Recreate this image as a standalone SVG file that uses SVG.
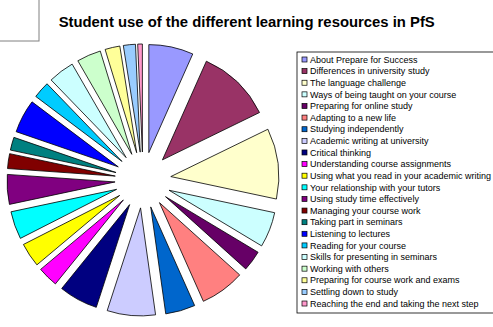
<svg xmlns="http://www.w3.org/2000/svg" width="493" height="327" viewBox="0 0 493 327">
<style>
.s{stroke:#000;stroke-width:0.8;stroke-linejoin:round}
.m{stroke:#000;stroke-width:0.7}
.t{font-family:"Liberation Sans",Arial,sans-serif;font-size:9px;fill:#000}
.title{font-family:"Liberation Sans",Arial,sans-serif;font-size:14.85px;font-weight:bold;fill:#000}
</style>
<rect x="0" y="0" width="493" height="327" fill="#fff"/>
<rect x="-2" y="-2" width="41" height="43" fill="#fff" stroke="#808080" stroke-width="1"/>
<text class="title" x="246.7" y="27.3" text-anchor="middle">Student use of the different learning resources in PfS</text>
<g id="pie">
<path id="slice1" class="s" fill="#9999FF" d="M148.82,152.61 L148.82,44.61 A108,108 0 0 1 192.75,53.95 Z"/>
<path id="slice2" class="s" fill="#993366" d="M162.45,159.86 L206.38,61.20 A108,108 0 0 1 259.52,112.51 Z"/>
<path id="slice3" class="s" fill="#FFFFCC" d="M170.79,176.59 L267.86,129.24 A108,108 0 0 1 276.42,199.04 Z"/>
<path id="slice4" class="s" fill="#CCFFFF" d="M169.05,190.26 L274.68,212.71 A108,108 0 0 1 261.63,245.88 Z"/>
<path id="slice5" class="s" fill="#660066" d="M165.51,196.65 L258.09,252.27 A108,108 0 0 1 245.76,268.91 Z"/>
<path id="slice6" class="s" fill="#FF8080" d="M159.46,202.65 L239.71,274.91 A108,108 0 0 1 203.39,301.31 Z"/>
<path id="slice7" class="s" fill="#0066CC" d="M150.72,206.92 L194.65,305.58 A108,108 0 0 1 165.75,313.87 Z"/>
<path id="slice8" class="s" fill="#CCCCFF" d="M140.56,207.89 L155.59,314.84 A108,108 0 0 1 107.19,310.61 Z"/>
<path id="slice9" class="s" fill="#000080" d="M129.64,204.61 L96.27,307.33 A108,108 0 0 1 61.68,288.54 Z"/>
<path id="slice10" class="s" fill="#FF00FF" d="M123.37,199.97 L55.41,283.90 A108,108 0 0 1 40.64,269.39 Z"/>
<path id="slice11" class="s" fill="#FFFF00" d="M119.65,195.45 L36.92,264.87 A108,108 0 0 1 23.42,244.48 Z"/>
<path id="slice12" class="s" fill="#00FFFF" d="M116.61,189.35 L20.38,238.38 A108,108 0 0 1 10.98,211.80 Z"/>
<path id="slice13" class="s" fill="#800080" d="M115.07,181.95 L9.44,204.40 A108,108 0 0 1 7.33,174.41 Z"/>
<path id="slice14" class="s" fill="#800000" d="M115.27,176.10 L7.53,168.56 A108,108 0 0 1 9.64,153.65 Z"/>
<path id="slice15" class="s" fill="#008080" d="M116.02,172.52 L10.39,150.07 A108,108 0 0 1 13.91,137.36 Z"/>
<path id="slice16" class="s" fill="#0000FF" d="M118.28,166.85 L16.17,131.69 A108,108 0 0 1 32.03,101.85 Z"/>
<path id="slice17" class="s" fill="#00CCFF" d="M122.03,161.45 L35.78,96.45 A108,108 0 0 1 47.00,83.77 Z"/>
<path id="slice18" class="s" fill="#CCFFFF" d="M126.15,157.64 L51.12,79.96 A108,108 0 0 1 72.15,64.11 Z"/>
<path id="slice19" class="s" fill="#CCFFCC" d="M131.84,154.32 L77.84,60.79 A108,108 0 0 1 100.26,51.04 Z"/>
<path id="slice20" class="s" fill="#FFFF99" d="M136.70,152.72 L105.12,49.44 A108,108 0 0 1 119.81,46.05 Z"/>
<path id="slice21" class="s" fill="#99CCFF" d="M140.19,152.14 L123.30,45.47 A108,108 0 0 1 135.48,44.25 Z"/>
<path id="slice22" class="s" fill="#FF99CC" d="M142.39,152.01 L137.68,44.12 A108,108 0 0 1 142.39,44.01 Z"/>
</g>
<g id="legend">
<rect x="297" y="52" width="200" height="261" fill="#fff" stroke="#000" stroke-width="0.8"/>
<g id="leg1"><rect class="m" x="302" y="57" width="5" height="5" fill="#9999FF"/><text class="t" x="310" y="62.7">About Prepare for Success</text></g>
<g id="leg2"><rect class="m" x="302" y="68.62" width="5" height="5" fill="#993366"/><text class="t" x="310" y="74.32">Differences in university study</text></g>
<g id="leg3"><rect class="m" x="302" y="80.24" width="5" height="5" fill="#FFFFCC"/><text class="t" x="310" y="85.94">The language challenge</text></g>
<g id="leg4"><rect class="m" x="302" y="91.86" width="5" height="5" fill="#CCFFFF"/><text class="t" x="310" y="97.56">Ways of being taught on your course</text></g>
<g id="leg5"><rect class="m" x="302" y="103.48" width="5" height="5" fill="#660066"/><text class="t" x="310" y="109.18">Preparing for online study</text></g>
<g id="leg6"><rect class="m" x="302" y="115.1" width="5" height="5" fill="#FF8080"/><text class="t" x="310" y="120.8">Adapting to a new life</text></g>
<g id="leg7"><rect class="m" x="302" y="126.72" width="5" height="5" fill="#0066CC"/><text class="t" x="310" y="132.42">Studying independently</text></g>
<g id="leg8"><rect class="m" x="302" y="138.34" width="5" height="5" fill="#CCCCFF"/><text class="t" x="310" y="144.04">Academic writing at university</text></g>
<g id="leg9"><rect class="m" x="302" y="149.96" width="5" height="5" fill="#000080"/><text class="t" x="310" y="155.66">Critical thinking</text></g>
<g id="leg10"><rect class="m" x="302" y="161.58" width="5" height="5" fill="#FF00FF"/><text class="t" x="310" y="167.28">Understanding course assignments</text></g>
<g id="leg11"><rect class="m" x="302" y="173.2" width="5" height="5" fill="#FFFF00"/><text class="t" x="310" y="178.9">Using what you read in your academic writing</text></g>
<g id="leg12"><rect class="m" x="302" y="184.82" width="5" height="5" fill="#00FFFF"/><text class="t" x="310" y="190.52">Your relationship with your tutors</text></g>
<g id="leg13"><rect class="m" x="302" y="196.44" width="5" height="5" fill="#800080"/><text class="t" x="310" y="202.14">Using study time effectively</text></g>
<g id="leg14"><rect class="m" x="302" y="208.06" width="5" height="5" fill="#800000"/><text class="t" x="310" y="213.76">Managing your course work</text></g>
<g id="leg15"><rect class="m" x="302" y="219.68" width="5" height="5" fill="#008080"/><text class="t" x="310" y="225.38">Taking part in seminars</text></g>
<g id="leg16"><rect class="m" x="302" y="231.3" width="5" height="5" fill="#0000FF"/><text class="t" x="310" y="237">Listening to lectures</text></g>
<g id="leg17"><rect class="m" x="302" y="242.92" width="5" height="5" fill="#00CCFF"/><text class="t" x="310" y="248.62">Reading for your course</text></g>
<g id="leg18"><rect class="m" x="302" y="254.54" width="5" height="5" fill="#CCFFFF"/><text class="t" x="310" y="260.24">Skills for presenting in seminars</text></g>
<g id="leg19"><rect class="m" x="302" y="266.16" width="5" height="5" fill="#CCFFCC"/><text class="t" x="310" y="271.86">Working with others</text></g>
<g id="leg20"><rect class="m" x="302" y="277.78" width="5" height="5" fill="#FFFF99"/><text class="t" x="310" y="283.48">Preparing for course work and exams</text></g>
<g id="leg21"><rect class="m" x="302" y="289.4" width="5" height="5" fill="#99CCFF"/><text class="t" x="310" y="295.1">Settling down to study</text></g>
<g id="leg22"><rect class="m" x="302" y="301.02" width="5" height="5" fill="#FF99CC"/><text class="t" x="310" y="306.72">Reaching the end and taking the next step</text></g>
</g>
</svg>
